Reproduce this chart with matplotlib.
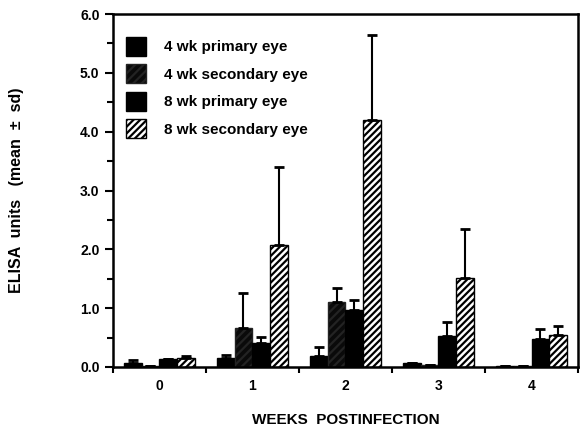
import numpy as np
import matplotlib
matplotlib.use("Agg")
import matplotlib.pyplot as plt

plt.rcParams['font.family'] = ['Liberation Sans', 'DejaVu Sans']
plt.rcParams['hatch.linewidth'] = 1.6

weeks = ["0", "1", "2", "3", "4"]
series_names = ["4 wk primary eye", "4 wk secondary eye",
                "8 wk primary eye", "8 wk secondary eye"]

# mean values per week
wk4_primary = [0.06, 0.15, 0.19, 0.06, 0.01]
wk4_secondary = [0.02, 0.67, 1.11, 0.04, 0.01]
wk8_primary = [0.14, 0.40, 0.97, 0.53, 0.48]
wk8_secondary = [0.15, 2.08, 4.20, 1.52, 0.54]

# upper sd
wk4_primary_sd = [0.05, 0.06, 0.15, 0.0, 0.0]
wk4_secondary_sd = [0.0, 0.59, 0.24, 0.0, 0.0]
wk8_primary_sd = [0.0, 0.11, 0.17, 0.24, 0.17]
wk8_secondary_sd = [0.03, 1.32, 1.44, 0.82, 0.16]

means = [wk4_primary, wk4_secondary, wk8_primary, wk8_secondary]
sds = [wk4_primary_sd, wk4_secondary_sd, wk8_primary_sd, wk8_secondary_sd]
styles = [
    dict(color="black", edgecolor="black", hatch=None),
    dict(color="#0a0a0a", edgecolor="#232323", hatch="////"),
    dict(color="black", edgecolor="black", hatch=None),
    dict(color="white", edgecolor="black", hatch="/////"),
]

fig = plt.figure(figsize=(5.81, 4.40), dpi=100)
ax = fig.add_axes([0.194, 0.166, 0.801, 0.802])

x = np.arange(len(weeks))
width = 0.19
for i in range(4):
    pos = x + (i - 1.5) * width
    m = np.array(means[i])
    e = np.array(sds[i])
    ax.bar(pos, m, width, label=series_names[i], linewidth=1.0, zorder=2, **styles[i])
    ax.errorbar(pos, m, yerr=[np.zeros_like(e), e], fmt="none", ecolor="black",
                elinewidth=1.5, capsize=3.5, capthick=2.0, zorder=3)

ax.set_xlim(-0.5, 4.5)
ax.set_ylim(0, 6.0)
ax.set_yticks(np.arange(0, 6.1, 1.0))
ax.set_yticklabels(["%.1f" % v for v in np.arange(0, 6.1, 1.0)], fontsize=10, fontweight="bold")
ax.set_yticks(np.arange(0.5, 6, 1.0), minor=True)
ax.set_xticks(x)
ax.set_xticklabels(weeks, fontsize=10, fontweight="bold")
ax.set_xticks(np.arange(-0.5, 4.6, 1.0), minor=True)
ax.tick_params(axis="x", which="major", length=0, pad=9)
ax.tick_params(axis="x", which="minor", length=4, width=1.5, direction="out")
ax.tick_params(axis="y", which="major", length=6, width=1.5, direction="out")
ax.tick_params(axis="y", which="minor", length=4, width=1.5, direction="out")
for s in ax.spines.values():
    s.set_linewidth(1.8)

ax.set_ylabel("ELISA  units   (mean  \u00b1  sd)", fontsize=11.5, fontweight="bold", labelpad=40)
ax.set_xlabel("WEEKS  POSTINFECTION", fontsize=11, fontweight="bold", labelpad=14)

ax.legend(loc="upper left", bbox_to_anchor=(0.0, 0.975), frameon=False,
          handlelength=1.25, handleheight=1.55,
          handletextpad=1.2, labelspacing=0.55, borderaxespad=0.5,
          prop=dict(weight="bold", size=11))

fig.savefig("out.png", dpi=100)
